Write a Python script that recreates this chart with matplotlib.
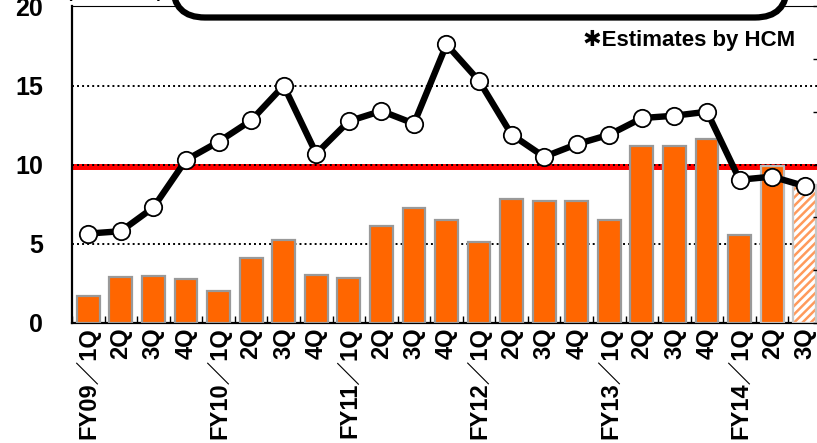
import numpy as np
import matplotlib
matplotlib.use('Agg')
import matplotlib.pyplot as plt
from matplotlib.patches import FancyBboxPatch
from matplotlib.transforms import IdentityTransform

plt.rcParams['font.family'] = ['Liberation Sans', 'DejaVu Sans', 'Noto Sans CJK JP']
plt.rcParams['font.weight'] = 'bold'
plt.rcParams['hatch.linewidth'] = 1.8

# 데이터
labels = ['FY09／1Q', '2Q', '3Q', '4Q',
          'FY10／1Q', '2Q', '3Q', '4Q',
          'FY11／1Q', '2Q', '3Q', '4Q',
          'FY12／1Q', '2Q', '3Q', '4Q',
          'FY13／1Q', '2Q', '3Q', '4Q',
          'FY14／1Q', '2Q', '3Q']
bar_vals = [1.7, 2.9, 3.0, 2.8, 2.05, 4.1, 5.25, 3.05, 2.85, 6.15, 7.25,
            6.5, 5.15, 7.85, 7.7, 7.7, 6.5, 11.2, 11.2, 11.6, 5.55, 9.95, 8.7]
line_vals = [5.65, 5.8, 7.3, 10.3, 11.45, 12.8, 15.0, 10.7, 12.75, 13.4, 12.6,
             17.6, 15.3, 11.9, 10.5, 11.3, 11.9, 12.95, 13.1, 13.35, 9.05, 9.25, 8.65]
red_level = 9.85
estimate_idx = 22   # 마지막 분기 = 추정치

W, H = 817, 443
fig = plt.figure(figsize=(W / 100, H / 100), dpi=100)
ax = fig.add_axes([72 / W, (H - 323) / H, (821 - 72) / W, (323 - 6.5) / H])

x = np.arange(len(labels))
ax.set_xlim(-0.5, len(labels) - 0.5)
ax.set_ylim(0, 20)

for yy in (5, 10, 15):
    ax.axhline(yy, color='k', ls=(0, (1, 1.6)), lw=1.4, zorder=2)
ax.axhline(red_level, color='#ff0000', lw=4.3, zorder=1)

solid = [i for i in x if i != estimate_idx]
edges = ['#999999'] * len(labels)
edges[21] = '#bbbbbb'
ax.bar(solid, [bar_vals[i] for i in solid], width=0.7, color='#ff6600',
       edgecolor=[edges[i] for i in solid], linewidth=1.6, zorder=3)
ax.bar(estimate_idx, bar_vals[estimate_idx], width=0.7, facecolor='white',
       edgecolor='#ff9a5c', hatch='////', linewidth=0, zorder=3)
ax.bar(estimate_idx, bar_vals[estimate_idx], width=0.7, fill=False,
       edgecolor='#c8c8c8', linewidth=1.6, zorder=3)

ax.plot(x, line_vals, color='k', lw=4.6, marker='o', ms=12.5, mfc='white',
        mec='k', mew=1.3, zorder=5, clip_on=False)

ax.set_yticks([0, 5, 10, 15, 20])
ax.tick_params(axis='y', length=0, pad=21, labelsize=18)
ax.set_xticks(x)
ax.set_xticklabels(labels, rotation=90, fontsize=17, va='top', ha='center')
ax.set_xticks(np.arange(-0.5, len(labels), 1), minor=True)
ax.tick_params(axis='x', which='major', length=0, pad=3)
ax.tick_params(axis='x', which='minor', direction='in', length=5, width=1)
for side in ('left', 'bottom'):
    ax.spines[side].set_linewidth(1.6)
ax.spines['top'].set_linewidth(0.8)
ax.spines['right'].set_visible(False)

ax2 = ax.twinx()
ax2.set_ylim(0, 30)
ax2.set_yticks(np.arange(0, 31, 5))
ax2.tick_params(axis='y', direction='in', length=6, width=1, labelright=False)
for sp in ax2.spines.values():
    sp.set_visible(False)

ax.text(795 / W, (H - 40) / H, '✱Estimates by HCM', transform=fig.transFigure,
        ha='right', va='center', fontsize=16, fontweight='bold')

# 위쪽 잘린 단위 표시와 말풍선 상자
fig.text(115 / W, (H - 1) / H, '(Billion Yen)', ha='center', va='bottom',
         fontsize=12, fontweight='bold')
box = FancyBboxPatch((173, H - 17.5), 787 - 173, 120,
                     boxstyle='round,pad=0,rounding_size=32',
                     transform=IdentityTransform(), facecolor='white',
                     edgecolor='k', lw=4.5, zorder=10, clip_on=False)
fig.add_artist(box)

fig.savefig('out.png', dpi=100)
